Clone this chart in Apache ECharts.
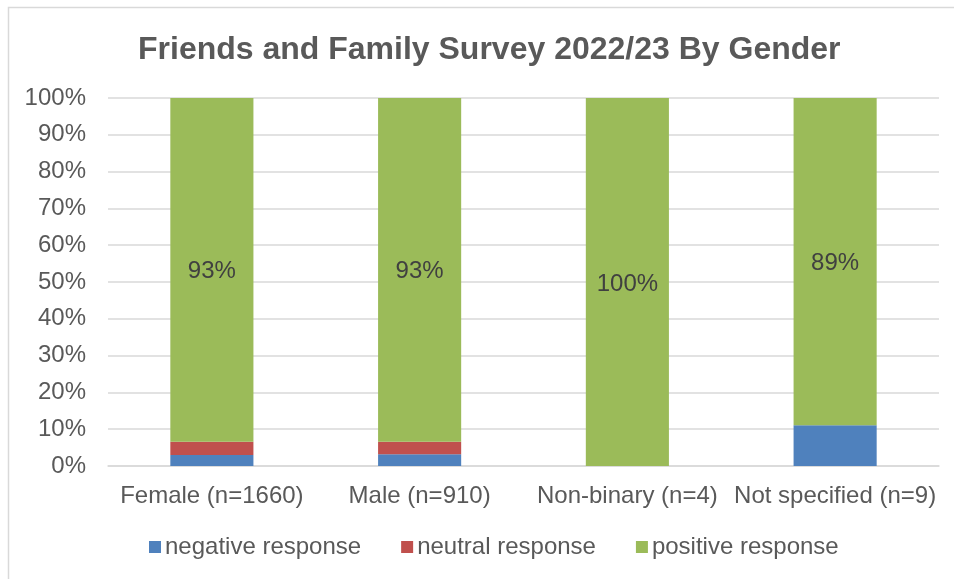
<!DOCTYPE html>
<html>
<head>
<meta charset="utf-8">
<style>
  html, body { margin: 0; padding: 0; background: #fff; }
  #chart { width: 954px; height: 579px; }
</style>
<script src="https://cdn.jsdelivr.net/npm/echarts@6/dist/echarts.min.js"></script>
</head>
<body>
<div id="chart"></div>
<script>
// Response shares by gender (percent of respondents)
const categories = ['Female (n=1660)', 'Male (n=910)', 'Non-binary (n=4)', 'Not specified (n=9)'];
const negativeResponse = [3.0, 3.2, 0, 11.1];
const neutralResponse = [3.6, 3.4, 0, 0];
const positiveResponse = [93.4, 93.4, 100, 88.9];
const yTicks = [0, 10, 20, 30, 40, 50, 60, 70, 80, 90, 100];

const textColor = '#595959';
const font = '"Liberation Sans", Arial, sans-serif';

const chart = echarts.init(document.getElementById('chart'), null, { renderer: 'canvas' });

chart.setOption({
  animation: false,
  backgroundColor: '#ffffff',
  textStyle: { fontFamily: font },
  graphic: [{
    type: 'rect',
    shape: { x: 8.5, y: 7.5, width: 1000, height: 1000 },
    style: { fill: 'none', stroke: '#d9d9d9', lineWidth: 1.5 },
    silent: true
  }],
  title: {
    text: 'Friends and Family Survey 2022/23 By Gender',
    left: 133,
    top: 29,
    textStyle: { fontFamily: font, fontSize: 32, fontWeight: 'bold', color: textColor }
  },
  legend: {
    left: 144,
    top: 530,
    itemWidth: 12,
    itemHeight: 12,
    itemGap: 40,
    icon: 'rect',
    textStyle: { fontFamily: font, fontSize: 24, color: textColor, padding: [0, 0, 0, -1] },
    data: ['negative response', 'neutral response', 'positive response']
  },
  grid: { left: 108, right: 15, top: 98, bottom: 113, containLabel: false },
  xAxis: {
    type: 'category',
    data: categories,
    axisLine: { lineStyle: { color: '#d9d9d9', width: 1.5 } },
    axisTick: { show: false },
    axisLabel: { fontFamily: font, fontSize: 24, color: textColor, margin: 18, interval: 0 }
  },
  yAxis: {
    type: 'value',
    min: yTicks[0],
    max: yTicks[yTicks.length - 1],
    interval: yTicks[1] - yTicks[0],
    axisLine: { show: false },
    axisTick: { show: false },
    splitLine: { lineStyle: { color: '#d9d9d9', width: 1.5 } },
    axisLabel: { fontFamily: font, fontSize: 24, color: textColor, margin: 22, formatter: '{value}%' }
  },
  series: [
    {
      name: 'negative response', type: 'bar', stack: 'total',
      data: negativeResponse, barCategoryGap: '60%',
      itemStyle: { color: '#4F81BD' }
    },
    {
      name: 'neutral response', type: 'bar', stack: 'total',
      data: neutralResponse, barCategoryGap: '60%',
      itemStyle: { color: '#C0504D' }
    },
    {
      name: 'positive response', type: 'bar', stack: 'total',
      data: positiveResponse, barCategoryGap: '60%',
      itemStyle: { color: '#9BBB59' },
      label: {
        show: true, position: 'inside', offset: [0, 2],
        fontFamily: font, fontSize: 24, color: '#404040',
        formatter: p => Math.round(p.value) + '%'
      }
    }
  ]
});
</script>
</body>
</html>
